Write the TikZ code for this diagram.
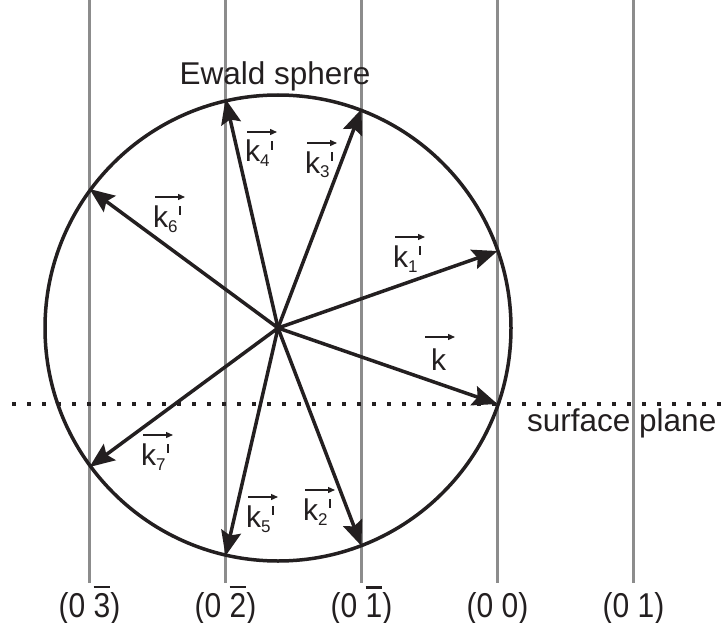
\documentclass[tikz,border=0pt]{standalone}
\usepackage{graphicx}
\usepackage{fontspec}
\setmainfont{Liberation Sans}
\usetikzlibrary{arrows.meta}
\definecolor{ink}{HTML}{231F20}
\definecolor{gridgray}{HTML}{8C8C8C}
\newsavebox\obbox
\newcommand\obar[1]{\sbox\obbox{#1}\rlap{\rule[\dimexpr\ht\obbox+4pt\relax]{\wd\obbox}{2pt}}\usebox\obbox}
\newcommand\ksub[1]{\raisebox{-5pt}{\fontsize{17}{17}\selectfont #1}}
\newcommand\kpr{\hspace{1.5pt}\rule[12.5pt]{2.3pt}{8.5pt}}
\begin{document}
\begin{tikzpicture}[x=1pt,y=-1pt,
  gridline/.style={draw=gridgray,line width=3pt},
  dotline/.style={draw=ink,line width=4pt,dash pattern=on 4pt off 11pt},
  ring/.style={draw=ink,line width=3.5pt},
  wave/.style={draw=ink,line width=3.5pt,-{Stealth[length=25pt,width=20pt,inset=4pt]}},
  klab/.style={font=\fontsize{30}{34}\selectfont,text=ink,inner sep=0pt,anchor=base west},
  vecar/.style={draw=ink,line width=1.3pt,-{Triangle[length=7pt,width=6pt]}},
  idx/.style={font=\fontsize{30}{34}\selectfont,text=ink,inner sep=0pt,anchor=base},
  title/.style={font=\fontsize{31.5}{36}\selectfont,text=ink,inner sep=0pt,anchor=base west}]
\path[use as bounding box] (0,0) rectangle (723,623);
% reciprocal lattice rods
\foreach \x/\n in {89.5/a,225.5/b,361.5/c,497.5/d,633.5/e}{
  \coordinate (g\n t) at (\x,0);
  \coordinate (g\n b) at (\x,583);
  \draw[gridline] (g\n t) -- (g\n b);
}
% surface plane
\coordinate (sp1) at (12,404);
\coordinate (sp2) at (723,404);
\draw[dotline] (sp1) -- (sp2);
% Ewald sphere
\coordinate (O) at (278,328);
\draw[ring] (O) circle (233pt);
% wave vectors
\coordinate (t0) at (497.5,404);
\coordinate (t1) at (497.5,251);
\coordinate (t2) at (361.5,546);
\coordinate (t3) at (361.5,109);
\coordinate (t4) at (225.5,99);
\coordinate (t5) at (225.5,556);
\coordinate (t6) at (89.5,189);
\coordinate (t7) at (89.5,467);
\foreach \t in {t0,t1,t2,t3,t4,t5,t6,t7}{\draw[wave] (O) -- (\t);}
% vector labels
\node[klab] (l0) at (431,370) {k};
\node[klab] (l1) at (393,267) {k\ksub{1}\kpr};
\node[klab] (l2) at (303,520) {k\ksub{2}\kpr};
\node[klab] (l3) at (305,173) {k\ksub{3}\kpr};
\node[klab] (l4) at (245,162) {k\ksub{4}\kpr};
\node[klab] (l5) at (246,527) {k\ksub{5}\kpr};
\node[klab] (l6) at (153,227) {k\ksub{6}\kpr};
\node[klab] (l7) at (141,465) {k\ksub{7}\kpr};
\draw[vecar] ([shift={(-6,-33)}]l0.base west) -- ++(30,0);
\foreach \l in {l1,l2,l3,l4,l5,l6,l7}{
  \draw[vecar] ([shift={(2,-30)}]\l.base west) -- ++(30,0);
}
% texts
\node[title] (ewald) at (179.5,85) {Ewald sphere};
\node[title] (surf) at (527,431.5) {surface plane};
\node[idx] (ia) at (89.5,617) {\scalebox{1}[1.15]{(0 \obar{3})}};
\node[idx] (ib) at (225.5,617) {\scalebox{1}[1.15]{(0 \obar{2})}};
\node[idx] (ic) at (361.5,617) {\scalebox{1}[1.15]{(0 \obar{1})}};
\node[idx] (id) at (497.5,617) {\scalebox{1}[1.15]{(0 0)}};
\node[idx] (ie) at (633.5,617) {\scalebox{1}[1.15]{(0 1)}};
\end{tikzpicture}
\end{document}
